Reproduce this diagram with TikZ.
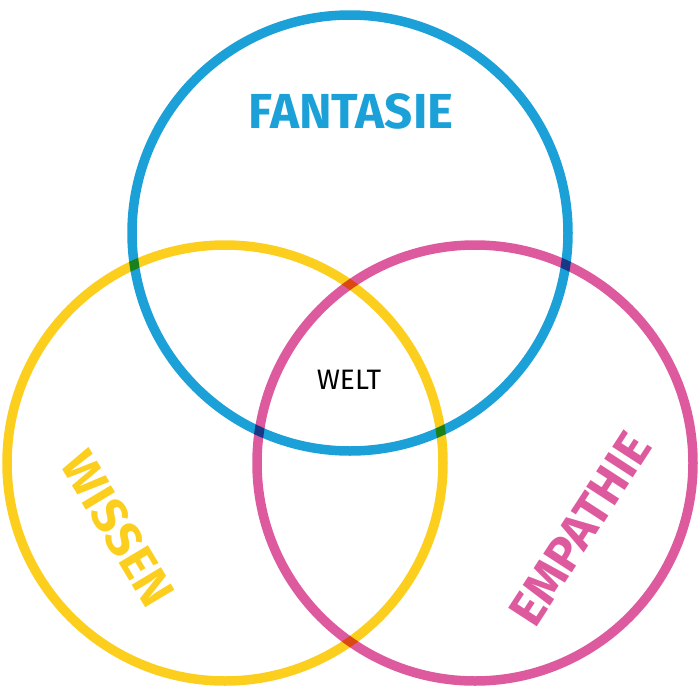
\documentclass[tikz,border=0pt]{standalone}
\usepackage{fontspec}
\newfontfamily\headfont{Fira Sans}
\definecolor{fantasieblue}{HTML}{1BA0D8}
\definecolor{wissenyellow}{HTML}{FCCF1F}
\definecolor{empathiepink}{HTML}{DE5A9E}
\begin{document}
\begin{tikzpicture}[x=0.02cm,y=-0.02cm,
  ring/.style={line width=9.5*0.02cm},
  title/.style={font=\headfont\bfseries\fontsize{28}{28}\selectfont,inner sep=0pt}]
\useasboundingbox (0,0) rectangle (700,700);
\begin{scope}[blend group=multiply]
\draw[ring,color=fantasieblue] (350,233) circle (218);
\draw[ring,color=wissenyellow] (225,463) circle (218);
\draw[ring,color=empathiepink] (475,463) circle (218);
\end{scope}
\node[title,text=fantasieblue] (fantasie) at (351,111) {FANTASIE};
\node[title,text=wissenyellow,rotate=-59] (wissen) at (118,529) {WISSEN};
\node[title,text=empathiepink,rotate=57] (empathie) at (580,529) {EMPATHIE};
\node[font=\headfont\fontsize{16}{16}\selectfont,inner sep=0pt] (welt) at (349,380) {WELT};
\end{tikzpicture}
\end{document}
